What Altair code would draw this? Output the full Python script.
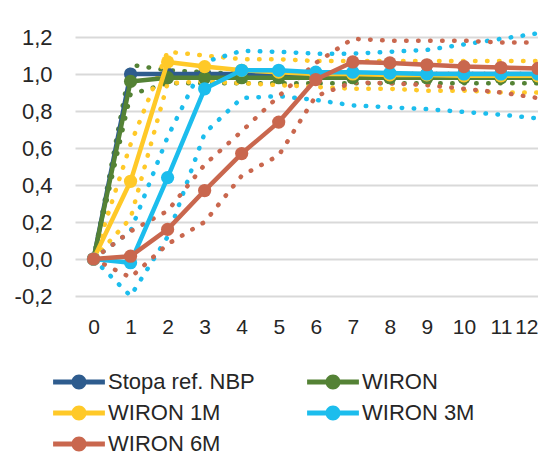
import altair as alt
import pandas as pd

# ---- data ----
months = list(range(13))
series_names = ["Stopa ref. NBP", "WIRON", "WIRON 1M", "WIRON 3M", "WIRON 6M"]
series_colors = ["#2E5C8E", "#548235", "#FFC928", "#1CBDED", "#C9674E"]

stopa = [0, 1, 1, 1, 1, 1, 1, 1, 1, 1, 1, 1, 1]
wiron = [0, 0.96, 0.98, 0.98, 0.98, 0.98, 0.98, 0.98, 0.98, 0.98, 0.98, 0.98, 0.98]
wiron_up = [0, 1.05, 1.02, 1.01, 1.0, 1.0, 1.0, 1.0, 1.0, 1.0, 1.0, 1.0, 1.0]
wiron_lo = [0, 0.89, 0.95, 0.95, 0.95, 0.95, 0.95, 0.95, 0.95, 0.95, 0.95, 0.95, 0.95]

w1m = [0, 0.42, 1.065, 1.04, 1.02, 1.01, 1.0, 1.0, 0.995, 0.995, 0.99, 0.99, 0.99]
w1m_up = [0, 0.62, 1.12, 1.10, 1.08, 1.08, 1.07, 1.07, 1.07, 1.07, 1.07, 1.07, 1.07]
w1m_lo = [0, 0.22, 0.95, 0.96, 0.95, 0.94, 0.93, 0.92, 0.92, 0.91, 0.91, 0.90, 0.90]

w3m = [0, -0.02, 0.44, 0.92, 1.02, 1.02, 1.01, 1.01, 1.005, 1.0, 1.0, 1.0, 1.0]
w3m_up = [0, 0.15, 0.66, 1.065, 1.125, 1.12, 1.11, 1.11, 1.12, 1.13, 1.16, 1.19, 1.22]
w3m_lo = [0, -0.20, 0.12, 0.68, 0.87, 0.88, 0.86, 0.83, 0.82, 0.81, 0.795, 0.78, 0.76]

w6m = [0, 0.015, 0.16, 0.37, 0.57, 0.74, 0.97, 1.065, 1.06, 1.05, 1.04, 1.035, 1.03]
w6m_up = [0, 0.15, 0.26, 0.51, 0.69, 0.88, 1.06, 1.19, 1.18, 1.18, 1.18, 1.17, 1.17]
w6m_lo = [0, -0.10, 0.08, 0.20, 0.45, 0.56, 0.88, 0.955, 0.95, 0.94, 0.92, 0.90, 0.87]

y_ticks = [-0.2, 0.0, 0.2, 0.4, 0.6, 0.8, 1.0, 1.2]

main = {
    "Stopa ref. NBP": stopa,
    "WIRON": wiron,
    "WIRON 1M": w1m,
    "WIRON 3M": w3m,
    "WIRON 6M": w6m,
}
bands = {
    "WIRON": (wiron_up, wiron_lo),
    "WIRON 1M": (w1m_up, w1m_lo),
    "WIRON 3M": (w3m_up, w3m_lo),
    "WIRON 6M": (w6m_up, w6m_lo),
}

main_rows = []
for name, vals in main.items():
    for m, v in zip(months, vals):
        main_rows.append({"month": m, "value": v, "series": name})
main_df = pd.DataFrame(main_rows)

band_rows = []
for name, (up, lo) in bands.items():
    for tag, vals in (("upper", up), ("lower", lo)):
        for m, v in zip(months, vals):
            band_rows.append({"month": m, "value": v, "series": name, "key": name + " " + tag})
band_df = pd.DataFrame(band_rows)

FONT = "Liberation Sans, Arial, sans-serif"
FS = 22
TEXT = "#262626"
color_of = dict(zip(series_names, series_colors))
color_scale = alt.Scale(domain=series_names, range=series_colors)

x_enc = alt.X(
    "month:Q",
    scale=alt.Scale(domain=[-0.5, 12.0], nice=False, zero=False),
    axis=alt.Axis(values=months, format="d", grid=False, domain=False, ticks=False,
                  labelPadding=20, labelFont=FONT, labelFontSize=21, labelColor=TEXT,
                  labelOverlap=False, labelFlush=2),
    title=None,
)
y_enc = alt.Y(
    "value:Q",
    scale=alt.Scale(domain=[-0.2, 1.2], nice=False, zero=False),
    axis=alt.Axis(values=y_ticks, grid=True, gridColor="#D9D9D9", gridWidth=2,
                  domain=False, ticks=False, labelPadding=23, labelFont=FONT,
                  labelFontSize=FS, labelColor=TEXT,
                  labelExpr="(datum.value < -0.001 ? '-' : '') + replace(format(abs(datum.value), '.1f'), '.', ',')"),
    title=None,
)

LEG_PATH = ("M-3.7,-0.36H-1.0V0.36H-3.7Z "
            "M1.0,-0.36H3.7V0.36H1.0Z "
            "M-1.07,0A1.07,1.07 0 1 1 1.07,0A1.07,1.07 0 1 1 -1.07,0Z")

legend = alt.Legend(
    orient="none", direction="horizontal", legendX=-22, legendY=334, columns=2,
    columnPadding=52, rowPadding=9, symbolType=LEG_PATH, symbolSize=196,
    symbolStrokeWidth=0, symbolOffset=15, labelOffset=18, labelFont=FONT,
    labelFontSize=FS, labelColor=TEXT, labelLimit=400, title=None, padding=0,
    symbolOpacity=1,
)

layers = []
# dotted confidence bands first
for name in bands:
    layers.append(
        alt.Chart(band_df).transform_filter(alt.datum.series == name)
        .mark_line(strokeWidth=4.5, strokeDash=[0.5, 11.5], strokeCap="round",
                   color=color_of[name])
        .encode(x=x_enc, y=y_enc, detail="key:N")
    )

# main lines with markers, in series order
for name in series_names:
    base = alt.Chart(main_df).transform_filter(alt.datum.series == name)
    layers.append(
        base.mark_line(strokeWidth=4.5, strokeJoin="round", color=color_of[name])
        .encode(x=x_enc, y=y_enc)
    )
    layers.append(
        base.mark_point(filled=True, size=175, opacity=1, shape="circle")
        .encode(x=x_enc, y=y_enc,
                color=alt.Color("series:N", scale=color_scale, legend=legend))
    )

chart = (
    alt.layer(*layers)
    .properties(
        width=463, height=259,
        autosize=alt.AutoSizeParams(type="none"),
        padding={"left": 67, "top": 29, "right": 0, "bottom": 159},
        background="white",
    )
    .configure_view(stroke=None)
)

chart.save("out.html", embed_options={"renderer": "svg", "actions": False})
